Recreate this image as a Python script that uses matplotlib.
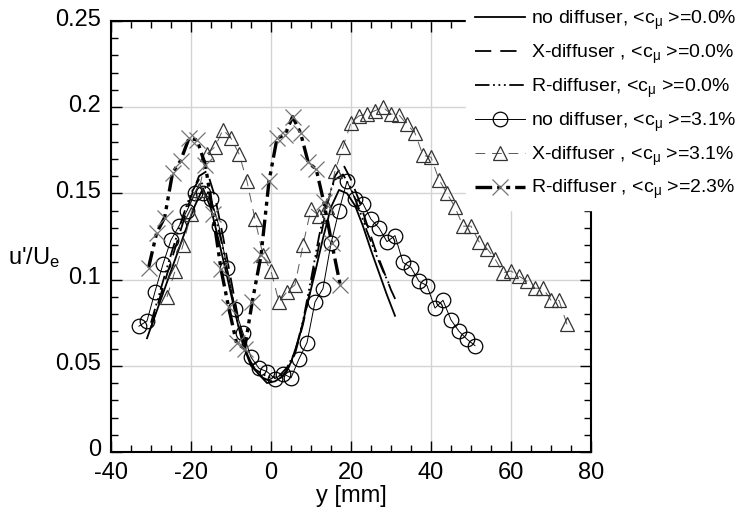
import matplotlib
matplotlib.use("Agg")
import matplotlib.pyplot as plt
import matplotlib.transforms as mtransforms
from matplotlib.ticker import MultipleLocator

plt.rcParams['font.family'] = ['Liberation Sans', 'DejaVu Sans']
plt.rcParams['mathtext.fontset'] = 'custom'
plt.rcParams['mathtext.rm'] = 'Liberation Sans'
plt.rcParams['mathtext.it'] = 'Liberation Sans'
plt.rcParams['axes.unicode_minus'] = False

# ---- data ----
x_no0 = [-31, -29, -27, -25, -23, -21, -19, -17, -15, -13, -11, -9, -7, -5, -3, -1,
         1, 3, 5, 7, 9, 11, 13, 15, 17, 19, 21, 23, 25, 27, 29, 31]
y_no0 = [0.066, 0.079, 0.092, 0.105, 0.118, 0.131, 0.143, 0.153, 0.141, 0.122, 0.102,
         0.081, 0.062, 0.050, 0.045, 0.040, 0.041, 0.044, 0.052, 0.066, 0.085, 0.104,
         0.124, 0.142, 0.152, 0.150, 0.143, 0.131, 0.117, 0.104, 0.091, 0.079]

x_X0 = [-30, -28, -26, -24, -22, -20, -18, -16, -14, -12, -10, -8, -6, -4, -2, 0,
        2, 4, 6, 8, 10, 12, 14, 16, 18, 20, 22, 24, 26, 28, 30, 31.4]
y_X0 = [0.072, 0.088, 0.103, 0.118, 0.133, 0.148, 0.160, 0.163, 0.148, 0.125, 0.100,
        0.075, 0.057, 0.047, 0.043, 0.041, 0.042, 0.047, 0.057, 0.074, 0.096, 0.120,
        0.143, 0.160, 0.167, 0.158, 0.146, 0.132, 0.118, 0.106, 0.094, 0.087]

x_R0 = [-30, -28, -26, -24, -22, -20, -18, -16, -14, -12, -10, -8, -6, -4, -2, 0,
        2, 4, 6, 8, 10, 12, 14, 16, 18, 20, 22, 24, 26, 28, 29.8]
y_R0 = [0.075, 0.091, 0.107, 0.122, 0.137, 0.150, 0.158, 0.152, 0.138, 0.118, 0.094,
        0.072, 0.056, 0.048, 0.045, 0.043, 0.044, 0.049, 0.058, 0.076, 0.100, 0.125,
        0.146, 0.158, 0.161, 0.153, 0.141, 0.128, 0.116, 0.105, 0.096]

x_no3 = [-33, -31, -29, -27, -25, -23, -21, -19, -17, -15, -13, -11, -9, -7, -5, -3, -1,
         1, 3, 5, 7, 9, 11, 13, 15, 17, 19, 21, 23, 25, 27, 29, 31, 33, 35, 37, 39,
         41, 43, 45, 47, 49, 51]
y_no3 = [0.073, 0.076, 0.093, 0.109, 0.123, 0.131, 0.140, 0.150, 0.150, 0.147, 0.131,
         0.107, 0.083, 0.069, 0.055, 0.0485, 0.0466, 0.0425, 0.0455, 0.043, 0.054,
         0.0634, 0.087, 0.0948, 0.121, 0.140, 0.157, 0.147, 0.144, 0.135, 0.130,
         0.122, 0.1255, 0.110, 0.107, 0.099, 0.0965, 0.0835, 0.088, 0.0766, 0.070,
         0.0654, 0.0617]

x_X3 = [-26, -24, -22, -20, -18, -16, -14, -12, -10, -8, -6, -4, -2, 0, 2, 4, 6, 8,
        10, 12, 14, 16, 18, 20, 22, 24, 26, 28, 30, 32, 34, 36, 38, 40, 42, 44, 46,
        48, 50, 52, 54, 56, 58, 60, 62, 64, 66, 68, 70, 72, 74]
y_X3 = [0.090, 0.105, 0.120, 0.138, 0.152, 0.173, 0.177, 0.187, 0.182, 0.173, 0.157,
        0.135, 0.114, 0.105, 0.087, 0.093, 0.097, 0.120, 0.141, 0.137, 0.142, 0.163,
        0.177, 0.191, 0.195, 0.196, 0.198, 0.200, 0.196, 0.1955, 0.190, 0.185, 0.172,
        0.171, 0.158, 0.150, 0.142, 0.131, 0.131, 0.122, 0.118, 0.112, 0.104, 0.105,
        0.102, 0.099, 0.095, 0.095, 0.088, 0.088, 0.074]

x_R2 = [-30.6, -28.6, -26.6, -24.6, -22.6, -20.5, -18.5, -16.4, -14.5, -12.5, -10.6,
        -8.6, -6.6, -4.7, -2.5, -0.5, 1.5, 3.5, 5.4, 7.4, 9.3, 11.3, 13.2, 15.2, 17.3]
y_R2 = [0.107, 0.127, 0.136, 0.162, 0.169, 0.182, 0.181, 0.1665, 0.138, 0.106, 0.084,
        0.063, 0.060, 0.087, 0.114, 0.157, 0.182, 0.184, 0.1945, 0.185, 0.168, 0.164,
        0.145, 0.121, 0.097]

labels = ['no diffuser, <c$_\\mathregular{μ}$ >=0.0%',
          'X-diffuser , <c$_\\mathregular{μ}$ >=0.0%',
          'R-diffuser, <c$_\\mathregular{μ}$ >=0.0%',
          'no diffuser, <c$_\\mathregular{μ}$ >=3.1%',
          'X-diffuser , <c$_\\mathregular{μ}$ >=3.1%',
          'R-diffuser , <c$_\\mathregular{μ}$ >=2.3%']

fig = plt.figure(figsize=(7.49, 5.16), dpi=100)
ax = fig.add_axes([111/749, 1-452/516, 480/749, 431/516])

ax.plot(x_no0, y_no0, color='black', lw=1.3, ls='-', label=labels[0])
ax.plot(x_X0, y_X0, color='black', lw=1.3, dashes=[9, 5], label=labels[1])
ax.plot(x_R0, y_R0, color='black', lw=1.3, dashes=[8, 2, 1, 2, 1, 2, 1, 2], label=labels[2])
ax.plot(x_no3, y_no3, color='black', lw=0.7, marker='o', ms=10.5, mfc='none',
        mec='black', mew=0.9, label=labels[3])
ax.plot(x_X3, y_X3, color='0.35', lw=0.7, dashes=[10, 7], marker='^', ms=10.5,
        mfc='none', mec='0.2', mew=0.9, label=labels[4])
ax.plot(x_R2, y_R2, color='black', lw=2.4, dashes=[5, 1.5, 1.2, 1.5, 1.2, 1.5],
        marker='x', ms=11, mec='0.45', mew=0.9, label=labels[5])

ax.set_xlim(-40, 80)
ax.set_ylim(0, 0.25)
ax.xaxis.set_major_locator(MultipleLocator(20))
ax.xaxis.set_minor_locator(MultipleLocator(5))
ax.yaxis.set_minor_locator(MultipleLocator(0.01))
ax.set_yticks([0, 0.05, 0.1, 0.15, 0.2, 0.25])
ax.set_yticklabels(['0', '0.05', '0.1', '0.15', '0.2', '0.25'])
ax.grid(True, which='major', color='#d4d4d4', lw=1.0)
ax.set_axisbelow(True)
ax.tick_params(which='both', direction='in', top=True, right=True, width=1.0,
               labelsize=17)
ax.tick_params(which='major', length=8, pad=7)
ax.tick_params(which='minor', length=5)
for s in ax.spines.values():
    s.set_linewidth(1.5)

# nudge y tick labels slightly upward, as in the reference
off = mtransforms.ScaledTranslation(0, 4/100, fig.dpi_scale_trans)
for lab in ax.get_yticklabels():
    lab.set_transform(lab.get_transform() + off)

ax.set_xlabel('y [mm]', fontsize=17, labelpad=1)
ax.set_ylabel("u'/U$_\\mathregular{e}$", fontsize=17, rotation=0, ha='left', va='center')
ax.yaxis.set_label_coords(-0.215, 0.45)

leg = ax.legend(loc='upper left', bbox_to_anchor=(466/749, 1.0), bbox_transform=fig.transFigure,
                fontsize=14, frameon=True, fancybox=False, edgecolor='white',
                facecolor='white', framealpha=1.0, handlelength=2.6, handletextpad=0.3,
                labelspacing=0.55, borderpad=0.45, borderaxespad=0, numpoints=1)

fig.savefig('out.png', dpi=100)
